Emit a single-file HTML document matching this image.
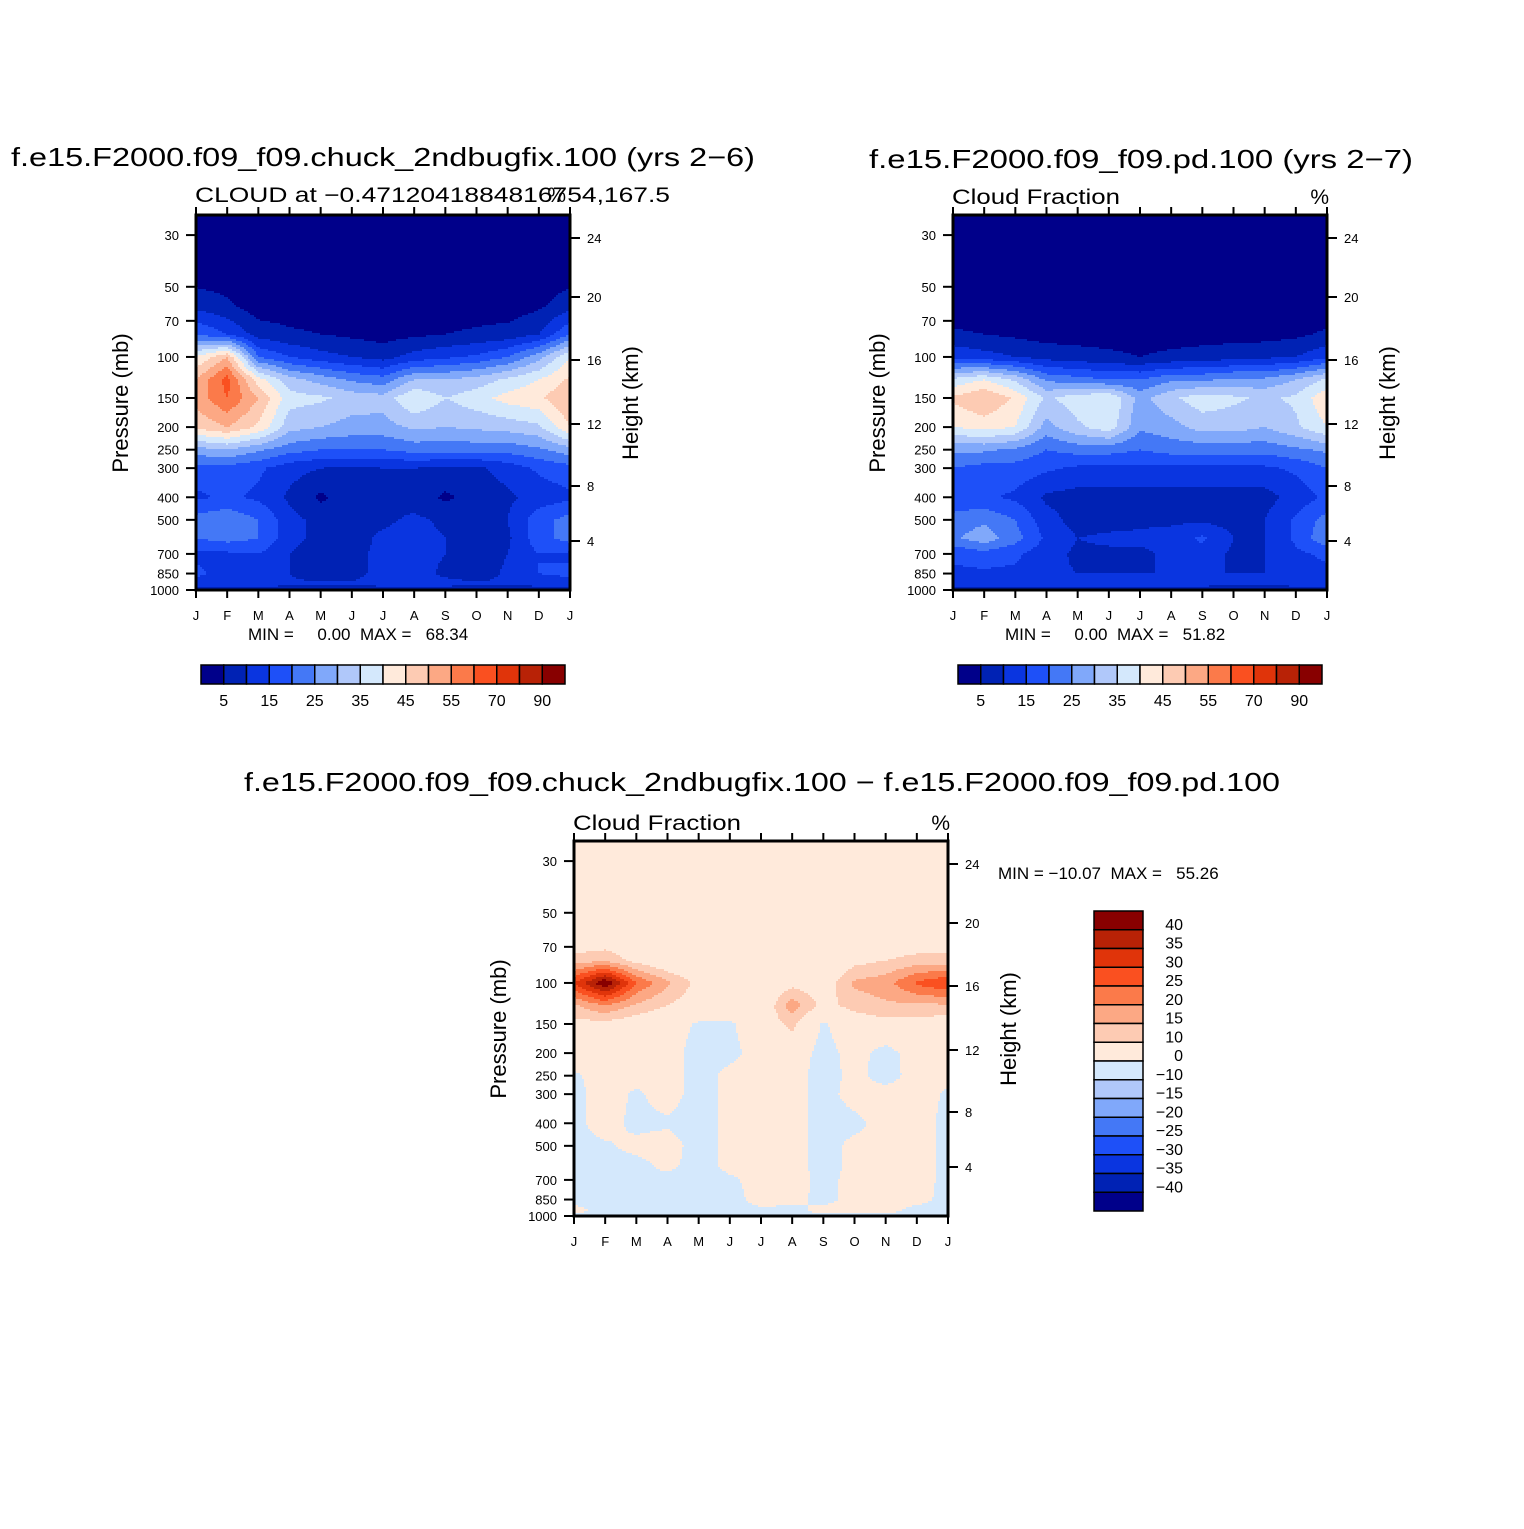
<!DOCTYPE html>
<html><head><meta charset="utf-8"><style>
html,body{margin:0;padding:0;background:#fff}
svg text{font-family:"Liberation Sans",sans-serif;fill:#000}
</style></head><body>
<svg id="chart" width="1524" height="1524" viewBox="0 0 1524 1524" xmlns="http://www.w3.org/2000/svg">
<rect width="1524" height="1524" fill="#fff"/>
<text x="383" y="166" font-size="26" text-anchor="middle" textLength="744" lengthAdjust="spacingAndGlyphs">f.e15.F2000.f09_f09.chuck_2ndbugfix.100 (yrs 2−6)</text>
<text x="195" y="202" font-size="21" textLength="475" lengthAdjust="spacingAndGlyphs">CLOUD at −0.4712041884816754,167.5</text>
<text x="566" y="202" font-size="21" text-anchor="end">%</text>
<text x="1141" y="168" font-size="26" text-anchor="middle" textLength="544" lengthAdjust="spacingAndGlyphs">f.e15.F2000.f09_f09.pd.100 (yrs 2−7)</text>
<text x="952" y="204" font-size="21" textLength="168" lengthAdjust="spacingAndGlyphs">Cloud Fraction</text>
<text x="1329" y="204" font-size="21" text-anchor="end">%</text>
<text x="762" y="791" font-size="26" text-anchor="middle" textLength="1036" lengthAdjust="spacingAndGlyphs">f.e15.F2000.f09_f09.chuck_2ndbugfix.100 − f.e15.F2000.f09_f09.pd.100</text>
<text x="573" y="830" font-size="21" textLength="168" lengthAdjust="spacingAndGlyphs">Cloud Fraction</text>
<text x="950" y="830" font-size="21" text-anchor="end">%</text>
<text x="248" y="640" font-size="17">MIN =&#160;&#160;&#160;&#160;&#160;0.00&#160;&#160;MAX =&#160;&#160;&#160;68.34</text>
<text x="1005" y="640" font-size="17">MIN =&#160;&#160;&#160;&#160;&#160;0.00&#160;&#160;MAX =&#160;&#160;&#160;51.82</text>
<text x="998" y="879" font-size="17">MIN = −10.07&#160;&#160;MAX =&#160;&#160;&#160;55.26</text>
</svg>
<script>
const NS='http://www.w3.org/2000/svg';
const svg=document.getElementById('chart');
const months=['J','F','M','A','M','J','J','A','S','O','N','D','J'];
const pressureLevels=[25,40,60,80,100,125,150,200,250,300,400,500,600,700,850,950,1000];
const pressureTicks=[30,50,70,100,150,200,250,300,400,500,700,850,1000];
const heightTicks=[24,20,16,12,8,4];
const heightTickOffsets=[23,82,145,209,271,326];
const colors=['#00008a','#0022b4','#0a35e0','#1e50f8','#4478f6','#80a8fa','#b0c8fa','#d4e8fc','#ffeadb','#fdcbb3','#fca884','#fb7a4a','#fa5020','#e0340a','#b82206','#880000'];
const levelsAbs=[5,10,15,20,25,30,35,40,45,50,55,60,70,80,90];
const levelsDiff=[-40,-35,-30,-25,-20,-15,-10,0,10,15,20,25,30,35,40];
const labelsAbs=['5','15','25','35','45','55','70','90'];
const labelsDiff=['40','35','30','25','20','15','10','0','−10','−15','−20','−25','−30','−35','−40'];
const cloudCase=[
[1,1,1,1,1,1,1,1,1,1,1,1,1],
[1,1,1,1,1,1,1,1,1,1,1,1,1],
[8,6,2,2,2,2,2,2,2,2,2,4,8],
[20,15,8,6,5,4,3,4,5,6,7,10,20],
[40,50,20,15,12,10,8,12,14,16,20,28,40],
[50,62,42,32,28,24,22,30,30,32,36,40,46],
[52,60,50,37,36,33,32,40,35,38,42,44,50],
[46,50,44,32,30,28,28,31,30,31,32,34,45],
[28,30,26,22,20,20,20,22,22,22,22,24,28],
[18,18,16,12,10,9,10,10,9,9,12,16,18],
[14,16,14,9,4,8,8,8,4,7,9,12,14],
[22,24,20,12,8,8,9,11,9,8,10,18,22],
[20,22,20,12,8,8,11,12,10,8,9,18,22],
[14,14,15,10,7,9,11,12,10,7,10,15,14],
[16,13,15,10,7,8,12,12,9,7,11,15,16],
[13,13,13,11,11,11,12,12,12,11,11,12,13],
[4,4,4,4,4,4,4,4,4,4,4,4,4]];
const cloudControl=[
[1,1,1,1,1,1,1,1,1,1,1,1,1],
[1,1,1,1,1,1,1,1,1,1,1,1,1],
[1,1,1,1,1,1,1,1,1,1,1,1,1],
[6,5,4,3,3,3,3,3,3,3,3,4,6],
[14,12,10,8,7,6,5,6,7,8,9,10,14],
[36,40,34,24,22,20,20,24,24,26,26,30,36],
[46,50,44,34,38,40,28,34,38,36,34,36,44],
[40,42,40,28,34,38,26,28,32,32,30,34,40],
[26,26,24,20,22,22,20,22,22,22,22,24,26],
[20,18,18,16,14,14,14,14,14,14,14,16,20],
[16,16,14,9,8,8,8,8,8,8,8,12,16],
[22,24,20,12,8,8,9,9,9,8,10,16,22],
[24,28,22,14,10,11,11,12,16,10,10,16,24],
[16,18,16,12,9,9,9,11,13,9,10,14,16],
[14,14,14,11,10,10,10,10,10,10,10,12,14],
[12,12,12,12,12,12,12,12,12,11,11,12,12],
[4,4,4,4,4,4,4,4,4,4,4,4,4]];
const cloudDiff=[
[2,2,2,2,2,2,2,2,2,2,2,2,2],
[2,2,2,2,2,2,2,2,2,2,2,2,2],
[3,3,3,3,3,3,3,3,3,3,3,3,3],
[12,14,8,4,3,2,2,4,3,8,10,12,12],
[30,45,25,16,8,4,3,8,6,16,18,26,30],
[14,20,14,10,6,4,4,18,8,12,14,14,14],
[8,8,6,4,-1,-1,5,12,-1,6,8,8,6],
[4,4,3,3,-3,-2,3,5,-3,3,-3,4,4],
[-1,3,2,3,-3,2,2,3,-3,2,-3,3,2],
[-2,3,-1,3,-3,2,2,3,-3,3,3,3,-1],
[-2,3,-2,-1,-3,2,2,3,-3,-2,3,3,-2],
[-2,-1,2,3,-3,2,2,3,-3,2,2,3,-2],
[-2,-2,-2,2,-3,2,2,3,-3,2,2,3,-2],
[-2,-2,-2,-2,-3,-1,2,3,-2,2,1,3,-2],
[-2,-2,-2,-2,-2,-2,2,2,-2,2,2,2,-2],
[2,-2,-2,-2,-2,-2,-1,-2,2,2,2,-2,-2],
[-2,-2,-2,-2,-2,-2,-2,-2,-2,-2,-2,-2,-2]];

function el(tag,attrs,parent){const e=document.createElementNS(NS,tag);for(const k in attrs)e.setAttribute(k,attrs[k]);(parent||svg).appendChild(e);return e;}
const PTOP=24.6, PBOT=1000;
function colorIdx(v,levels){let i=0;while(i<levels.length&&v>=levels[i])i++;return i;}

function panel(name,x0,y0,data,levels){
  const W=374,H=375;
  const xs=m=>x0+m*W/12;
  const ys=p=>y0+H*(Math.log(p/PTOP)/Math.log(PBOT/PTOP));
  const g=el('g',{});
  
  
  const lnl=pressureLevels.map(p=>Math.log(p));
  function val(m,p){
    const lp=Math.log(p);
    let r=0;while(r<pressureLevels.length-2&&lp>lnl[r+1])r++;
    let t=(lp-lnl[r])/(lnl[r+1]-lnl[r]);t=Math.max(0,Math.min(1,t));
    let c=Math.min(11,Math.floor(m));let s=m-c;
    const a=data[r][c]*(1-s)+data[r][c+1]*s;
    const b=data[r+1][c]*(1-s)+data[r+1][c+1]*s;
    return a*(1-t)+b*t;
  }
  function addRun(x,w,y,h,ci){
    const r=el('rect',{x:x0+x,y:y0+y,width:w+0.6,height:h+0.6,fill:colors[ci]},g);
    
    
  }
  const step=2;
  for(let py=0;py<H;py+=step){
    const h=Math.min(step,H-py);
    const p=PTOP*Math.exp((py+h/2)/H*Math.log(PBOT/PTOP));
    let runStart=0,runC=-1;
    for(let px=0;px<W;px+=step){
      const m=Math.min(12,(px+step/2)/W*12);
      const ci=colorIdx(val(m,p),levels);
      if(ci!==runC){
        if(runC>=0)addRun(runStart,px-runStart,py,h,runC);
        runStart=px;runC=ci;
      }
    }
    if(runC>=0)addRun(runStart,W-runStart,py,h,runC);
  }
  const f=el('rect',{x:x0,y:y0,width:W,height:H,fill:'none',stroke:'#000','stroke-width':3});
  
  
  const ax=el('g',{stroke:'#000','stroke-width':2});
  
  
  months.forEach((mo,i)=>{
    const x=xs(i);
    el('line',{x1:x,y1:y0,x2:x,y2:y0-8},ax);
    el('line',{x1:x,y1:y0+H,x2:x,y2:y0+H+8},ax);
    const t=el('text',{x:x,y:y0+H+30,'font-size':13,'text-anchor':'middle'});
    t.textContent=mo;
    
    
  });
  pressureTicks.forEach(p=>{
    const y=ys(p);
    el('line',{x1:x0,y1:y,x2:x0-10,y2:y},ax);
    const t=el('text',{x:x0-17,y:y+5,'font-size':13,'text-anchor':'end'});
    t.textContent=p;
    
    
  });
  heightTicks.forEach((hk,i)=>{
    const y=y0+heightTickOffsets[i];
    el('line',{x1:x0+W,y1:y,x2:x0+W+10,y2:y},ax);
    const t=el('text',{x:x0+W+17,y:y+5,'font-size':13});
    t.textContent=hk;
    
    
  });
  const yt=el('text',{x:0,y:0,'font-size':22,'text-anchor':'middle',transform:`translate(${x0-68},${y0+188}) rotate(-90)`});
  yt.textContent='Pressure (mb)';
  
  
  const ht=el('text',{x:0,y:0,'font-size':22,'text-anchor':'middle',transform:`translate(${x0+W+68},${y0+188}) rotate(-90)`});
  ht.textContent='Height (km)';
  
  
}
panel('panel1',196,215,cloudCase,levelsAbs);
panel('panel2',953,215,cloudControl,levelsAbs);
panel('panel3',574,841,cloudDiff,levelsDiff);

function hbar(name,x0,y0){
  const bw=364/16;
  const g=el('g',{});
  
  
  colors.forEach((c,i)=>{
    const r=el('rect',{x:x0+i*bw,y:y0,width:bw,height:19,fill:c,stroke:'#000','stroke-width':1.5},g);
    
    
  });
  labelsAbs.forEach((l,i)=>{
    const t=el('text',{x:x0+(2*i+1)*bw,y:y0+41,'font-size':16,'text-anchor':'middle'},g);
    t.textContent=l;
    
    
  });
}
hbar('panel1-colorbar',201,665);
hbar('panel2-colorbar',958,665);
(function(){
  const x0=1094,y0=911,bh=300/16;
  const g=el('g',{});
  
  
  colors.slice().reverse().forEach((c,i)=>{
    const r=el('rect',{x:x0,y:y0+i*bh,width:49,height:bh,fill:c,stroke:'#000','stroke-width':1.5},g);
    
    
  });
  labelsDiff.forEach((l,i)=>{
    const t=el('text',{x:1183,y:y0+(i+1)*bh+0,'font-size':16,'text-anchor':'end'},g);
    t.textContent=l;
    
    
  });
})();
</script>
</body></html>
